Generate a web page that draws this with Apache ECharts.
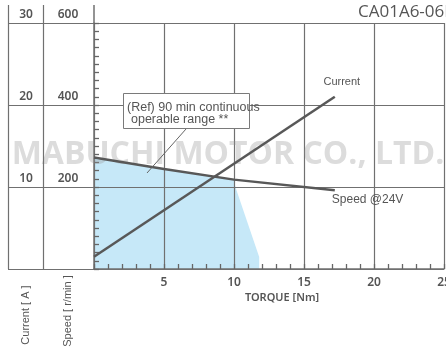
<!DOCTYPE html>
<html>
<head>
<meta charset="utf-8">
<script src="https://cdn.jsdelivr.net/npm/echarts@6/dist/echarts.min.js"></script>
<style>
  html, body { margin: 0; padding: 0; background: #ffffff; }
  #chart { width: 446px; height: 348px; }
</style>
</head>
<body>
<div id="chart"></div>
<script>
// Axis ticks
const torqueTicks = [0, 5, 10, 15, 20, 25];      // Nm
const currentTicks = [0, 10, 20, 30];            // A
const speedTicks = [0, 200, 400, 600];           // r/min

// Characteristic curves: [torque Nm, value]
const currentCurve = [[0, 1.5], [17.2, 21.0]];
const speedCurve = [[0, 272], [5, 244], [10, 218], [17.2, 192]];

// 90 min continuous operable range (boundary in torque / speed)
const operableRange = [[0, 272], [5, 244], [10, 218], [10.1, 200], [11.8, 29], [11.8, 0]];

const INK = '#555555';
const GRID = '#707070';
const TICK = '#666666';
const CURVE = '#585858';
const FILL = '#c6e8f8';
const TICK_FONT = '"Noto Sans", sans-serif';
const NARROW_FONT = '"Liberation Sans Narrow", "Liberation Sans", sans-serif';

const chart = echarts.init(document.getElementById('chart'), null, { renderer: 'canvas' });

const step = a => a[1] - a[0];
const last = a => a[a.length - 1];

chart.setOption({
  animation: false,
  backgroundColor: '#ffffff',
  grid: { left: 94, right: 2, top: 23, bottom: 79, containLabel: false, outerBoundsMode: 'none' },
  xAxis: {
    type: 'value', z: 2,
    min: torqueTicks[0], max: last(torqueTicks), interval: step(torqueTicks),
    axisLine: { show: true, lineStyle: { color: GRID, width: 1.5 } },
    axisTick: { show: true, inside: true, length: 5, lineStyle: { color: TICK, width: 1.3 } },
    minorTick: { show: true, splitNumber: 5, length: 5, lineStyle: { color: TICK, width: 1.3 } },
    splitLine: { show: true, lineStyle: { color: GRID, width: 1.2 } },
    axisLabel: {
      margin: 8, color: INK, fontSize: 12, fontWeight: 600, fontFamily: TICK_FONT,
      formatter: v => (v === 0 ? '' : String(v))
    }
  },
  yAxis: [
    {
      type: 'value', position: 'left', z: 2,
      min: currentTicks[0], max: last(currentTicks), interval: step(currentTicks),
      axisLine: { show: true, lineStyle: { color: GRID, width: 1.5 } },
      axisTick: { show: true, inside: true, length: 5, lineStyle: { color: TICK, width: 1.3 } },
      minorTick: { show: true, splitNumber: 10, length: 5, lineStyle: { color: TICK, width: 1.3 } },
      splitLine: { show: true, lineStyle: { color: GRID, width: 1.2 } },
      axisLabel: {
        margin: 68, align: 'center', verticalAlign: 'bottom', padding: [0, 0, 2, 0],
        color: INK, fontSize: 12, fontWeight: 600, fontFamily: TICK_FONT,
        formatter: v => (v === 0 ? '' : String(v))
      }
    },
    {
      type: 'value', position: 'left', z: 2,
      min: speedTicks[0], max: last(speedTicks), interval: step(speedTicks),
      axisLine: { show: false }, axisTick: { show: false }, splitLine: { show: false },
      axisLabel: {
        margin: 26, align: 'center', verticalAlign: 'bottom', padding: [0, 0, 2, 0],
        color: INK, fontSize: 12, fontWeight: 600, fontFamily: TICK_FONT,
        formatter: v => (v === 0 ? '' : String(v))
      }
    }
  ],
  series: [
    {
      name: 'Operable range', type: 'line', yAxisIndex: 1, z: 1,
      data: operableRange, symbol: 'none',
      lineStyle: { width: 0, opacity: 0 },
      areaStyle: { color: FILL, opacity: 1, origin: 'start' },
      silent: true
    },
    {
      name: 'Speed @24V', type: 'line', yAxisIndex: 1, z: 4,
      data: speedCurve, symbol: 'none',
      lineStyle: { color: CURVE, width: 2.5 }
    },
    {
      name: 'Current', type: 'line', yAxisIndex: 0, z: 4,
      data: currentCurve, symbol: 'none',
      lineStyle: { color: CURVE, width: 2.5 }
    }
  ]
});

// Positions of the value scale, used for the side table and labels
const px = v => chart.convertToPixel({ xAxisIndex: 0 }, v);
const pyA = v => chart.convertToPixel({ yAxisIndex: 0 }, v);
const pyS = v => chart.convertToPixel({ yAxisIndex: 1 }, v);

const axisX = px(0);
const bottomY = pyA(0);
const tableLeft = 8;
const tableMid = 43;
const tableTop = 5;
const lineStyle = { stroke: GRID, lineWidth: 1.2 };

const elements = [];

// Side table: horizontal rules carried out to the left edge
currentTicks.forEach(v => {
  const y = Math.round(pyA(v)) + 0.5;
  elements.push({ type: 'line', z: 5, shape: { x1: tableLeft, y1: y, x2: axisX, y2: y }, style: lineStyle, silent: true });
});
// Side table: vertical rules
[tableLeft, tableMid].forEach(x => {
  elements.push({ type: 'line', z: 5, shape: { x1: x + 0.5, y1: tableTop, x2: x + 0.5, y2: bottomY }, style: lineStyle, silent: true });
});
elements.push({ type: 'line', z: 5, shape: { x1: axisX, y1: tableTop, x2: axisX, y2: pyA(last(currentTicks)) }, style: { stroke: GRID, lineWidth: 1.5 }, silent: true });

// Rotated axis titles
elements.push({
  type: 'text', z: 5, x: (tableLeft + tableMid) / 2, y: 315, rotation: Math.PI / 2,
  style: { text: 'Current [ A ]', fill: INK, font: '11px "Liberation Sans", sans-serif', align: 'center', verticalAlign: 'middle' }
});
elements.push({
  type: 'text', z: 5, x: (tableMid + axisX) / 2 - 1, y: 311, rotation: Math.PI / 2,
  style: { text: 'Speed [ r/min ]', fill: INK, font: '11px "Liberation Sans", sans-serif', align: 'center', verticalAlign: 'middle' }
});

// Torque axis title
elements.push({
  type: 'text', z: 5, x: 282, y: 298,
  style: { text: 'TORQUE [Nm]', fill: INK, font: '600 11px "Noto Sans", sans-serif', align: 'center', verticalAlign: 'middle' }
});

// Model code
elements.push({
  type: 'text', z: 5, x: 358, y: 12,
  style: { text: 'CA01A6-06B', fill: INK, font: '17px "Open Sans", sans-serif', align: 'left', verticalAlign: 'middle' }
});

// Company watermark
elements.push({
  type: 'text', z: 3, x: 228, y: 155,
  style: { text: 'MABUCHI MOTOR CO., LTD.', fill: 'rgba(150,150,150,0.33)', font: 'bold 32px "Open Sans", sans-serif', align: 'center', verticalAlign: 'middle' },
  silent: true
});

// Curve labels
const curEnd = last(currentCurve);
const spdEnd = last(speedCurve);
elements.push({
  type: 'text', z: 5, x: px(curEnd[0]) + 7, y: pyA(curEnd[1]) - 15,
  style: { text: 'Current', fill: INK, font: '11px "Liberation Sans", sans-serif', align: 'center', verticalAlign: 'middle' }
});
elements.push({
  type: 'text', z: 5, x: px(spdEnd[0]) - 3, y: pyS(spdEnd[1]) + 9,
  style: { text: 'Speed @24V', fill: INK, font: '12px ' + NARROW_FONT, align: 'left', verticalAlign: 'middle' }
});

// Operable range callout
elements.push({
  type: 'rect', z: 6, shape: { x: 123.5, y: 93.5, width: 126, height: 35 },
  style: { fill: '#ffffff', stroke: '#7a7a7a', lineWidth: 1 }
});
elements.push({
  type: 'text', z: 7, x: 127, y: 108,
  style: { text: '(Ref) 90 min continuous', fill: INK, font: '12.5px ' + NARROW_FONT, align: 'left', verticalAlign: 'middle' }
});
elements.push({
  type: 'text', z: 7, x: 131, y: 120,
  style: { text: 'operable range **', fill: INK, font: '12.5px ' + NARROW_FONT, align: 'left', verticalAlign: 'middle' }
});
elements.push({
  type: 'line', z: 6, shape: { x1: 186, y1: 129, x2: 147, y2: 173 },
  style: { stroke: '#666666', lineWidth: 1 }
});

chart.setOption({ graphic: { elements: elements } });
</script>
</body>
</html>
